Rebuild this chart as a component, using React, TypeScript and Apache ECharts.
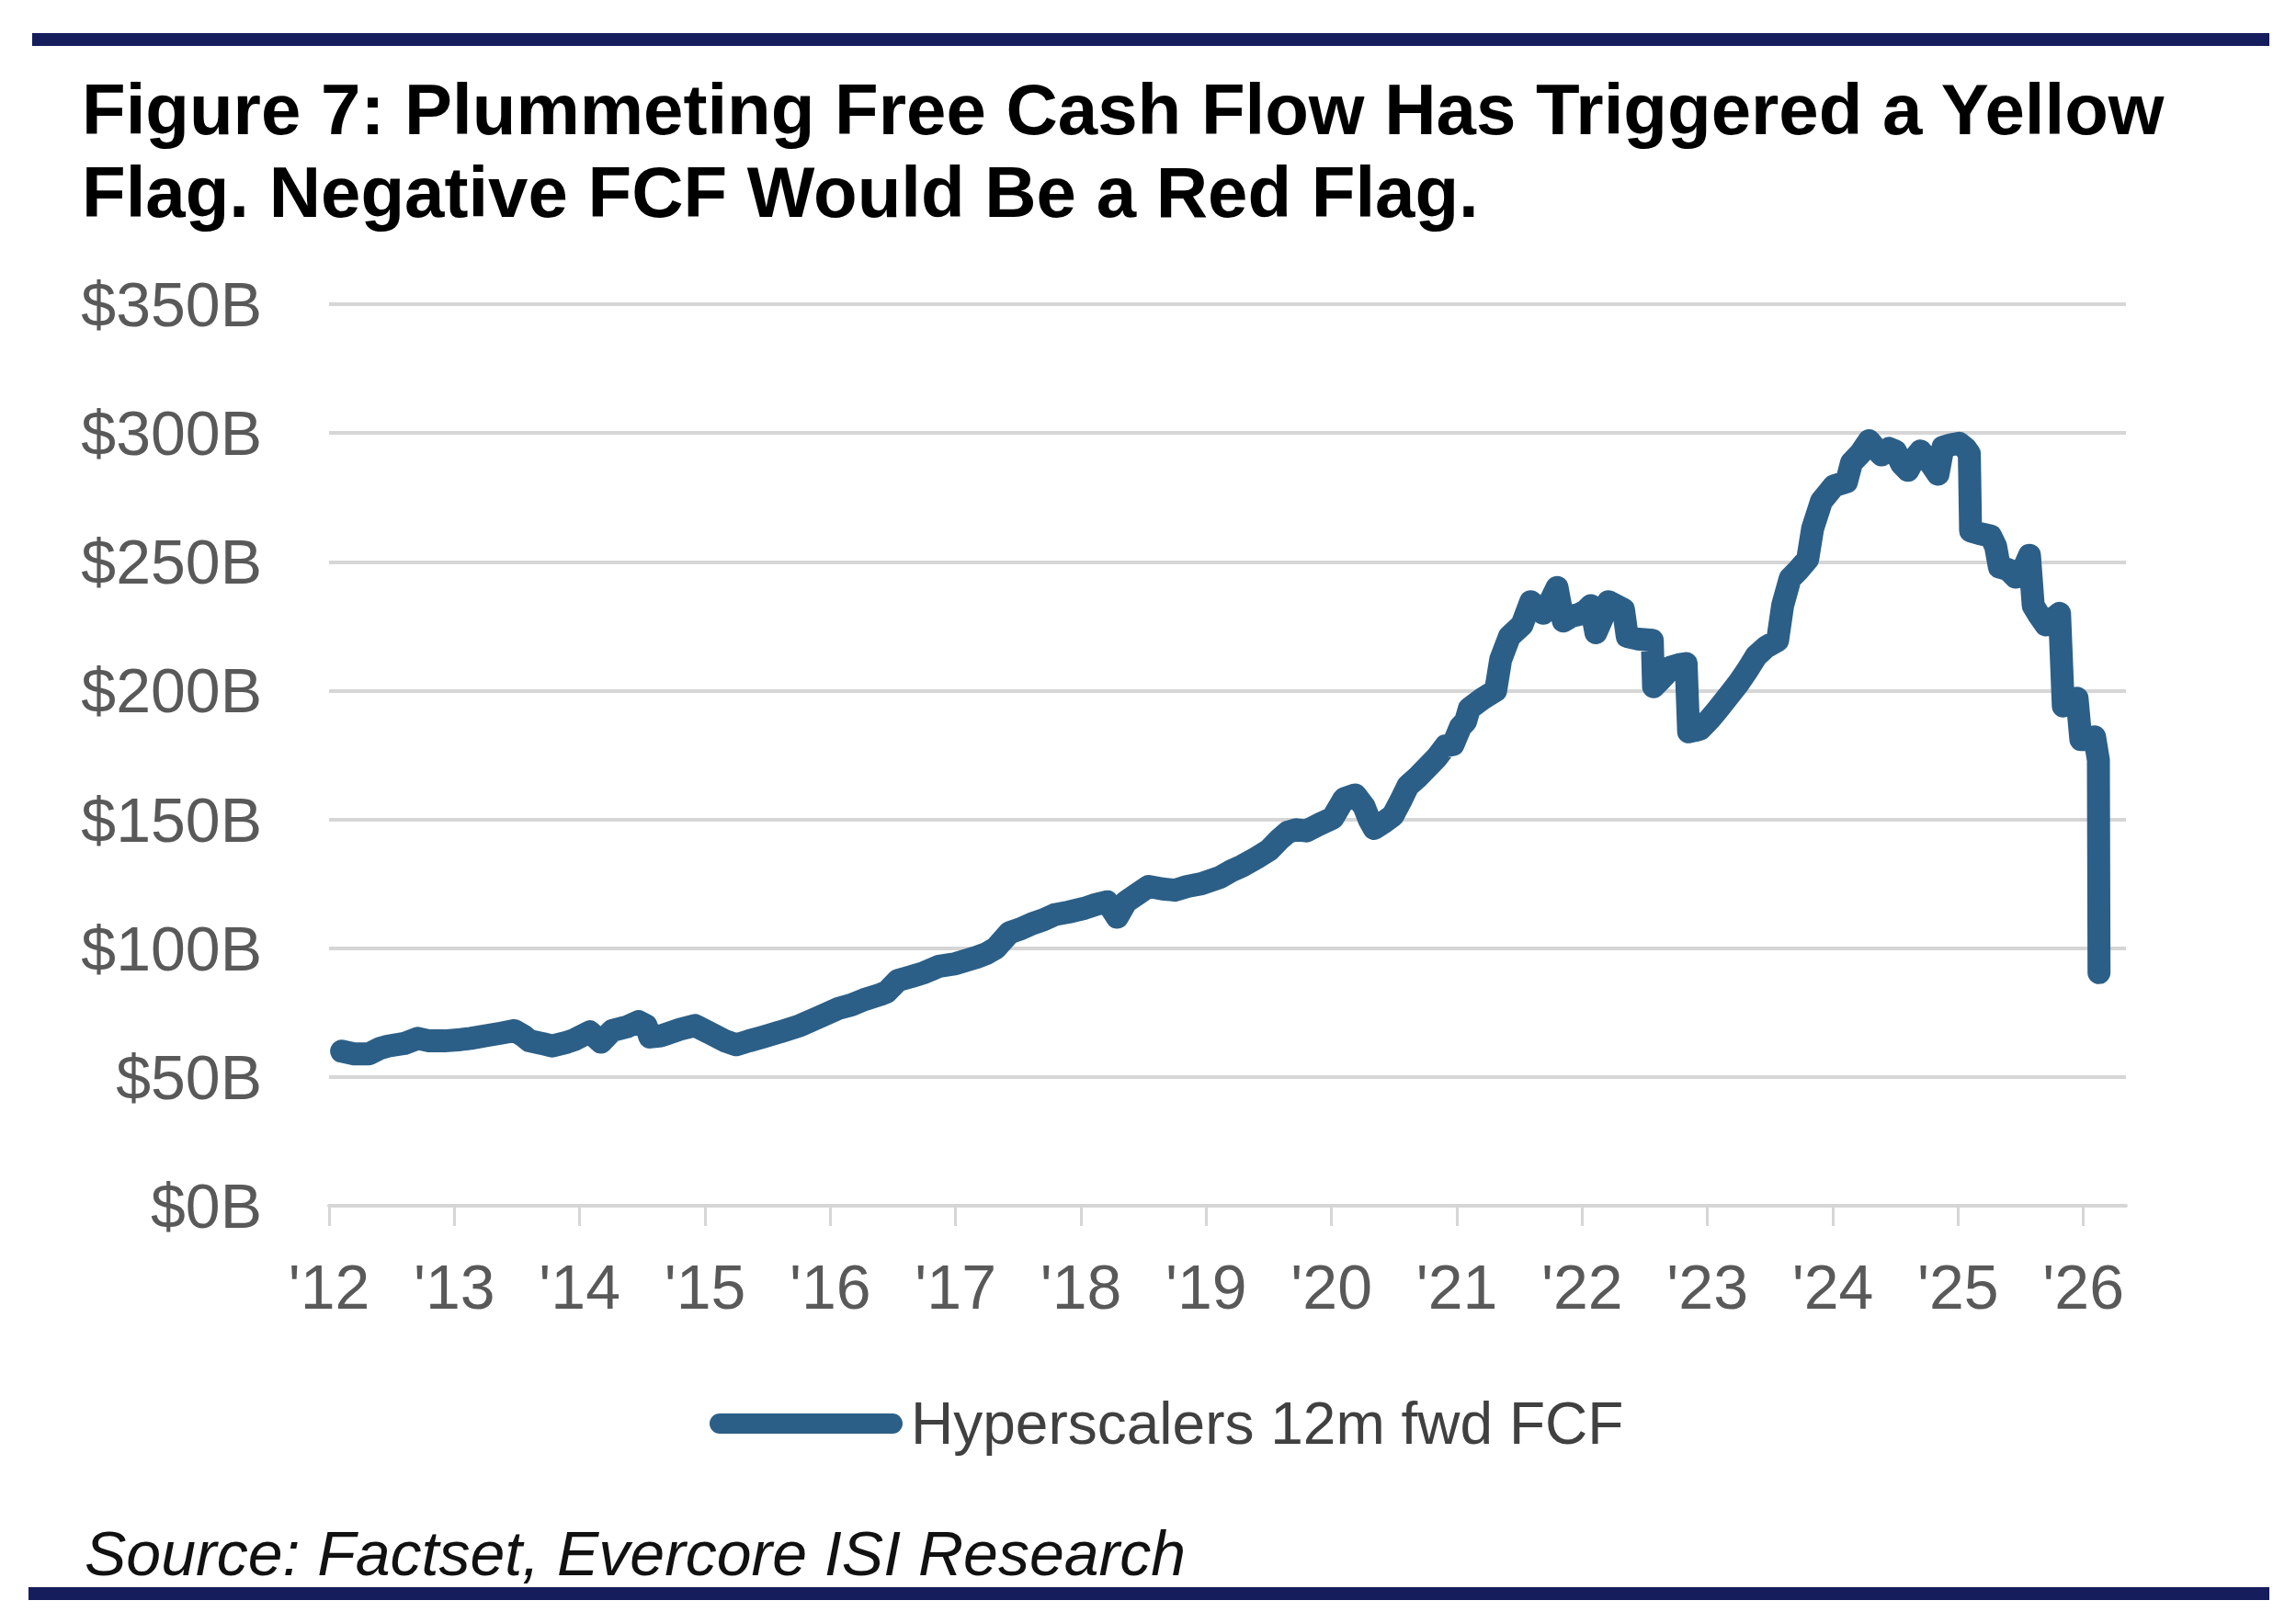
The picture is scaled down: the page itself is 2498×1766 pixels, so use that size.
import React, { useEffect, useRef } from "react";
import * as echarts from "echarts";

// ---- data ----
const years: number[] = [
  2012.10, 2012.20, 2012.32, 2012.40, 2012.47, 2012.60, 2012.71, 2012.80, 2012.92,
  2013.05, 2013.13, 2013.25, 2013.37, 2013.48, 2013.55, 2013.60, 2013.70, 2013.78, 2013.90, 2013.96,
  2014.08, 2014.17, 2014.26, 2014.38, 2014.47, 2014.53, 2014.56, 2014.65, 2014.71, 2014.80, 2014.92,
  2015.04, 2015.16, 2015.25, 2015.35, 2015.46, 2015.60, 2015.76, 2015.90,
  2016.06, 2016.17, 2016.27, 2016.40, 2016.45, 2016.54, 2016.65, 2016.75, 2016.87,
  2017.00, 2017.17, 2017.25, 2017.32, 2017.43, 2017.52, 2017.61, 2017.70, 2017.79, 2017.90,
  2018.03, 2018.12, 2018.21, 2018.29, 2018.36, 2018.45, 2018.54, 2018.65, 2018.75, 2018.85, 2018.96,
  2019.11, 2019.20, 2019.29, 2019.40, 2019.50, 2019.58, 2019.65, 2019.72, 2019.80, 2019.90,
  2020.01, 2020.10, 2020.19, 2020.26, 2020.30, 2020.34, 2020.42, 2020.49, 2020.55, 2020.61, 2020.68,
  2020.76, 2020.84, 2020.91, 2020.97,
  2021.03, 2021.07, 2021.10, 2021.21, 2021.31, 2021.35, 2021.42, 2021.52, 2021.59, 2021.65, 2021.69,
  2021.75, 2021.80, 2021.85, 2021.92, 2021.97,
  2022.03, 2022.07, 2022.11, 2022.16, 2022.21, 2022.27, 2022.33, 2022.36, 2022.45, 2022.56, 2022.57,
  2022.62, 2022.66, 2022.70, 2022.77, 2022.83, 2022.85, 2022.90, 2022.94,
  2023.02, 2023.08, 2023.17, 2023.25, 2023.32, 2023.39, 2023.47, 2023.56, 2023.60, 2023.66, 2023.73,
  2023.80, 2023.84, 2023.91,
  2024.01, 2024.11, 2024.15, 2024.22, 2024.29, 2024.34, 2024.39, 2024.45, 2024.50, 2024.55, 2024.60,
  2024.65, 2024.70, 2024.77, 2024.84, 2024.88, 2024.95,
  2025.01, 2025.06, 2025.09, 2025.10, 2025.17, 2025.26, 2025.30, 2025.33, 2025.40, 2025.46, 2025.52,
  2025.57, 2025.60, 2025.65, 2025.70, 2025.76, 2025.81, 2025.84, 2025.90, 2025.95, 2025.98,
  2026.04, 2026.09, 2026.12, 2026.125,
];

const fcfBillions: number[] = [
  60, 59, 59, 61, 62, 63, 65, 64, 64,
  64.5, 65, 66, 67, 68, 66, 64, 63, 62, 63.5, 64.5,
  67.5, 63.5, 68, 69.5, 71.5, 70, 65.5, 66, 67, 68.5, 70,
  67, 64, 62.5, 64, 65.5, 67.5, 70, 73,
  76.5, 78, 80, 82, 83, 87.5, 89, 90.5, 93,
  94, 96.5, 98, 100, 106, 107.5, 109.5, 111, 113, 114,
  115.5, 117, 118, 112, 118, 121, 124, 123, 122.5, 124, 125,
  127.5, 130, 132, 135, 138, 142, 145, 146, 145.5, 148,
  150.5, 158, 159.5, 155, 150, 146.5, 149, 151.5, 157, 163, 166,
  170, 174, 178.5, 179,
  186, 188, 193, 197, 200, 212, 221, 225.5, 234.5, 232, 230,
  235, 240, 227, 229, 229.5,
  231, 233, 222.5, 228, 234.5, 233, 231.5, 221, 220, 219.5, 201.5,
  204, 206, 209, 210, 210.5, 184, 184.5, 185,
  189, 192.5, 198, 203, 208, 213.5, 217, 219.5, 233, 243.5, 247,
  251, 263, 273.5,
  279.5, 281, 288.5, 292, 297, 294, 291.5, 294, 293, 288, 285.5,
  290, 293, 289, 284, 294.5, 295.5,
  296, 294, 292, 262, 261, 260, 256, 248, 247, 244, 247,
  252.5, 233, 229, 225.5, 228, 230, 194, 196, 197, 181,
  181, 182, 173, 90.5,
];

const xTickYears: number[] = [2012, 2013, 2014, 2015, 2016, 2017, 2018, 2019, 2020, 2021, 2022, 2023, 2024, 2025, 2026];
const yTicks: number[] = [0, 50, 100, 150, 200, 250, 300, 350];

const seriesName = "Hyperscalers 12m fwd FCF";
const titleText = "Figure 7: Plummeting Free Cash Flow Has Triggered a Yellow\nFlag. Negative FCF Would Be a Red Flag.";
const sourceText = "Source: Factset, Evercore ISI Research";

const SANS = "'Liberation Sans', Arial, Helvetica, sans-serif";
const LINE_COLOR = "#2c5f87";
const NAVY = "#161d5c";

export default function App() {
  const ref = useRef<HTMLDivElement>(null);

  useEffect(() => {
    if (!ref.current) return;
    const chart = echarts.init(ref.current, undefined, { renderer: "svg" });
    const data = years.map((y, i) => [y, fcfBillions[i]]);

    chart.setOption({
      animation: false,
      backgroundColor: "#ffffff",
      title: [
        {
          text: titleText,
          left: 84,
          top: 69,
          textStyle: {
            fontFamily: SANS,
            fontWeight: "bold",
            fontSize: 78,
            lineHeight: 90,
            color: "#000000",
          },
        },
        {
          text: sourceText,
          left: 87,
          top: 1650,
          textStyle: {
            fontFamily: SANS,
            fontStyle: "italic",
            fontWeight: "normal",
            fontSize: 68,
            lineHeight: 70,
            color: "#111111",
          },
        },
      ],
      graphic: [
        { type: "rect", shape: { x: 35, y: 36, width: 2434, height: 14 }, style: { fill: NAVY } },
        { type: "rect", shape: { x: 31, y: 1727, width: 2438, height: 14 }, style: { fill: NAVY } },
      ],
      legend: {
        left: 767,
        top: 1512,
        itemWidth: 210,
        itemHeight: 22,
        icon: "path://M11,0 L199,0 A11,11 0 0 1 199,22 L11,22 A11,11 0 0 1 11,0 Z",
        data: [seriesName],
        textStyle: {
          fontFamily: SANS,
          fontSize: 64,
          color: "#404040",
          padding: [0, 0, 0, 4],
        },
      },
      grid: {
        left: 358,
        right: 185,
        top: 331,
        bottom: 454,
        containLabel: false,
      },
      xAxis: {
        type: "value",
        min: xTickYears[0],
        max: 2026.34,
        interval: 1,
        splitLine: { show: false },
        axisLine: { show: true, lineStyle: { color: "#d6d6d6", width: 4 } },
        axisTick: {
          show: true,
          length: 22,
          customValues: xTickYears,
          lineStyle: { color: "#d6d6d6", width: 3 },
        },
        axisLabel: {
          customValues: xTickYears,
          margin: 54,
          fontFamily: SANS,
          fontSize: 68,
          color: "#595959",
          formatter: (v: number) => "'" + String(Math.round(v)).slice(2),
        },
      },
      yAxis: {
        type: "value",
        min: yTicks[0],
        max: yTicks[yTicks.length - 1],
        interval: 50,
        axisLine: { show: false },
        axisTick: { show: false },
        splitLine: { show: true, lineStyle: { color: "#d6d6d6", width: 4 } },
        axisLabel: {
          margin: 73,
          fontFamily: SANS,
          fontSize: 68,
          color: "#595959",
          formatter: (v: number) => "$" + v + "B",
        },
      },
      series: [
        {
          name: seriesName,
          type: "line",
          data,
          showSymbol: false,
          symbol: "none",
          color: LINE_COLOR,
          lineStyle: { color: LINE_COLOR, width: 25, cap: "round", join: "round" },
          emphasis: { disabled: true },
        },
      ],
    });

    return () => chart.dispose();
  }, []);

  return (
    <div
      ref={ref}
      style={{ position: "fixed", left: 0, top: 0, width: 2498, height: 1766, background: "#fff" }}
    />
  );
}
